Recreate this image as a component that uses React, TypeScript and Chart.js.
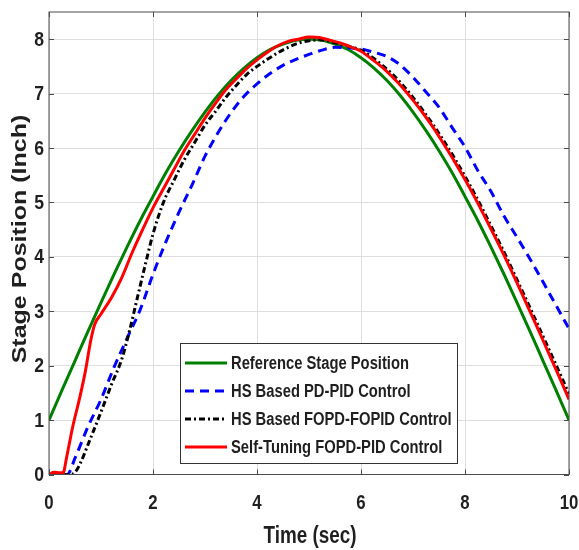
import React, { useEffect, useRef } from "react";
import { Chart, registerables } from "chart.js";
Chart.register(...registerables);

const SERIES_NAMES = [
  "Reference Stage Position",
  "HS Based PD-PID Control",
  "HS Based FOPD-FOPID Control",
  "Self-Tuning FOPD-PID Control",
];
const X_TITLE = "Time (sec)";
const Y_TITLE = "Stage Position (Inch)";

const T_REF = [0, 0.25, 0.5, 0.75, 1, 1.25, 1.5, 1.75, 2, 2.25, 2.5, 2.75, 3, 3.25, 3.5, 3.75, 4, 4.25, 4.5, 4.75, 5,
  5.25, 5.5, 5.75, 6, 6.25, 6.5, 6.75, 7, 7.25, 7.5, 7.75, 8, 8.25, 8.5, 8.75, 9, 9.25, 9.5, 9.75, 10];
const Y_REF = [1.0, 1.55, 2.09, 2.63, 3.16, 3.68, 4.18, 4.66, 5.11, 5.55, 5.95, 6.32, 6.66, 6.97, 7.24, 7.47, 7.66, 7.81, 7.91, 7.98, 8.0,
  7.98, 7.91, 7.81, 7.66, 7.47, 7.24, 6.97, 6.66, 6.32, 5.95, 5.55, 5.11, 4.66, 4.18, 3.68, 3.16, 2.63, 2.09, 1.55, 1.0];

const T_PD = [0, 0.35, 0.5, 0.75, 1, 1.25, 1.5, 1.75, 2, 2.25, 2.5, 2.75, 3, 3.25, 3.5, 3.75, 4, 4.25, 4.5, 4.75, 5,
  5.25, 5.5, 5.75, 6, 6.25, 6.5, 6.75, 7, 7.25, 7.5, 7.75, 8, 8.25, 8.5, 8.75, 9, 9.25, 9.5, 9.75, 10];
const Y_PD = [0, 0, 0.3, 0.88, 1.38, 1.97, 2.5, 3.02, 3.68, 4.28, 4.82, 5.32, 5.85, 6.28, 6.65, 6.95, 7.18, 7.37, 7.52, 7.63, 7.72,
  7.8, 7.85, 7.84, 7.82, 7.76, 7.68, 7.53, 7.3, 7.03, 6.75, 6.38, 6.02, 5.58, 5.2, 4.75, 4.36, 3.96, 3.54, 3.11, 2.68];

const T_FO = [0, 0.4, 0.5, 0.6, 0.75, 1, 1.2, 1.4, 1.55, 1.7, 1.85, 2, 2.2, 2.4, 2.6, 2.8, 3, 3.2, 3.4, 3.6, 3.8, 4,
  4.2, 4.4, 4.6, 4.8, 5, 5.2, 5.4, 5.6, 5.8, 6, 6.2, 6.4, 6.6, 6.8, 7, 7.2, 7.4, 7.6, 7.8, 8, 8.2, 8.4, 8.6, 8.8, 9,
  9.2, 9.4, 9.6, 9.8, 10];
const Y_FO = [0, 0, 0.04, 0.2, 0.55, 1.15, 1.65, 2.12, 2.65, 3.25, 3.85, 4.42, 5.0, 5.4, 5.78, 6.1, 6.42, 6.67, 6.93, 7.15, 7.35, 7.5,
  7.63, 7.75, 7.85, 7.93, 7.97, 7.99, 7.96, 7.91, 7.86, 7.8, 7.68, 7.53, 7.36, 7.16, 6.93, 6.68, 6.41, 6.12, 5.81, 5.48, 5.13, 4.76,
  4.38, 3.99, 3.58, 3.17, 2.75, 2.33, 1.91, 1.48];

const T_ST = [0, 0.1, 0.2, 0.27, 0.34, 0.45, 0.6, 0.7, 0.8, 0.88, 1, 1.2, 1.4, 1.6, 1.8, 2, 2.2, 2.4, 2.6, 2.8, 3, 3.2, 3.4,
  3.6, 3.8, 4, 4.2, 4.4, 4.6, 4.8, 5, 5.2, 5.4, 5.6, 5.8, 6, 6.2, 6.4, 6.6, 6.8, 7, 7.2, 7.4, 7.6, 7.8, 8, 8.2, 8.4, 8.6,
  8.8, 9, 9.2, 9.4, 9.6, 9.8, 10];
const Y_ST = [0, 0.04, 0.03, 0.03, 0.32, 0.85, 1.45, 1.9, 2.45, 2.76, 2.95, 3.25, 3.62, 4.08, 4.5, 4.9, 5.25, 5.6, 5.95, 6.25, 6.55,
  6.82, 7.07, 7.27, 7.46, 7.62, 7.76, 7.88, 7.96, 8.0, 8.04, 8.03, 7.98, 7.93, 7.86, 7.78, 7.64, 7.49, 7.31, 7.11, 6.88, 6.63,
  6.36, 6.06, 5.75, 5.42, 5.07, 4.7, 4.32, 3.93, 3.52, 3.1, 2.68, 2.25, 1.82, 1.38];

const X_TICKS = [0, 2, 4, 6, 8, 10];
const Y_TICKS = [0, 1, 2, 3, 4, 5, 6, 7, 8];

const FONT = "'Liberation Sans', Arial, sans-serif";
const SX = 0.82; // horizontal squeeze of the original lettering
const TEXT_COLOR = "#1f1f1f";

const COLORS = ["#008000", "#0000ff", "#000000", "#ff0000"];
const DASHES: number[][] = [[], [9, 6], [6, 3, 2, 3], []];

const pts = (t: number[], y: number[]) => t.map((v, i) => ({ x: v, y: y[i] }));

function squeezedText(ctx: any, text: string, x: number, y: number, size: number,
  align: CanvasTextAlign, rotate = false, sx = SX) {
  ctx.save();
  ctx.font = `bold ${size}px ${FONT}`;
  ctx.fillStyle = TEXT_COLOR;
  ctx.textAlign = align;
  ctx.textBaseline = "middle";
  ctx.translate(x, y);
  ctx.scale(sx, 1);
  if (rotate) ctx.rotate(-Math.PI / 2);
  ctx.fillText(text, 0, 0);
  ctx.restore();
}

const framePlugin = {
  id: "frame",
  beforeDraw(chart: any) {
    const ctx = chart.ctx;
    ctx.save();
    ctx.fillStyle = "#ffffff";
    ctx.fillRect(0, 0, chart.width, chart.height);
    ctx.restore();
  },
  afterDatasetsDraw(chart: any) {
    const { ctx, chartArea: a, scales } = chart;
    ctx.save();
    ctx.strokeStyle = "#4a4a4a";
    ctx.lineWidth = 1;
    ctx.setLineDash([]);
    ctx.strokeRect(a.left, a.top, a.right - a.left, a.bottom - a.top);
    const L = 5;
    ctx.beginPath();
    X_TICKS.forEach((v) => {
      const px = Math.round(scales.x.getPixelForValue(v)) + 0.5;
      ctx.moveTo(px, a.bottom);
      ctx.lineTo(px, a.bottom - L);
      ctx.moveTo(px, a.top);
      ctx.lineTo(px, a.top + L);
    });
    Y_TICKS.forEach((v) => {
      const py = Math.round(scales.y.getPixelForValue(v)) + 0.5;
      ctx.moveTo(a.left, py);
      ctx.lineTo(a.left + L, py);
      ctx.moveTo(a.right, py);
      ctx.lineTo(a.right - L, py);
    });
    ctx.stroke();

    // tick labels
    scales.x.ticks.forEach((t: any) => {
      squeezedText(ctx, String(t.value), scales.x.getPixelForValue(t.value), a.bottom + 29, 21, "center", false, 0.8);
    });
    scales.y.ticks.forEach((t: any) => {
      squeezedText(ctx, String(t.value), a.left - 5, scales.y.getPixelForValue(t.value) + 1, 20, "right", false, 0.88);
    });
    // axis titles
    squeezedText(ctx, X_TITLE, 310, 537, 23, "center");
    squeezedText(ctx, Y_TITLE, 20, 239, 25, "center", true);

    // legend box
    const bx = 180, by = 343, bw = 277, bh = 120;
    ctx.fillStyle = "#ffffff";
    ctx.fillRect(bx, by, bw, bh);
    ctx.strokeStyle = "#333333";
    ctx.lineWidth = 1;
    ctx.strokeRect(bx + 0.5, by + 0.5, bw, bh);
    const rowY = [363, 391, 419, 447];
    SERIES_NAMES.forEach((name, i) => {
      const y = rowY[i];
      ctx.beginPath();
      ctx.strokeStyle = COLORS[i];
      ctx.lineWidth = 3;
      ctx.setLineDash(DASHES[i]);
      ctx.moveTo(185, y);
      ctx.lineTo(227, y);
      ctx.stroke();
      ctx.setLineDash([]);
      squeezedText(ctx, name, 231, y + 1, 18, "left");
    });
    ctx.restore();
  },
};

export default function App() {
  const ref = useRef<HTMLCanvasElement>(null);
  useEffect(() => {
    const series = [pts(T_REF, Y_REF), pts(T_PD, Y_PD), pts(T_FO, Y_FO), pts(T_ST, Y_ST)];
    const chart = new Chart(ref.current as HTMLCanvasElement, {
      type: "line",
      data: {
        datasets: series.map((d, i) => ({
          label: SERIES_NAMES[i],
          data: d,
          borderColor: COLORS[i],
          backgroundColor: COLORS[i],
          borderWidth: 3,
          borderDash: DASHES[i],
          pointRadius: 0,
          fill: false,
          cubicInterpolationMode: "monotone" as const,
          order: 4 - i,
        })),
      },
      options: {
        animation: false,
        responsive: false,
        devicePixelRatio: 1,
        layout: { padding: { left: 0, top: 12, right: 10, bottom: 0 } },
        plugins: { legend: { display: false }, tooltip: { enabled: false } },
        scales: {
          x: {
            type: "linear",
            min: 0,
            max: 10,
            afterFit: (s: any) => { s.height = 75.5; },
            ticks: { stepSize: 2, display: false },
            grid: { color: "#dedede", lineWidth: 1, drawTicks: false },
            border: { display: false },
            title: { display: false, text: X_TITLE },
          },
          y: {
            type: "linear",
            min: 0,
            max: 8.5,
            afterFit: (s: any) => { s.width = 49; },
            ticks: { stepSize: 1, includeBounds: false, display: false },
            grid: { color: "#dedede", lineWidth: 1, drawTicks: false },
            border: { display: false },
            title: { display: false, text: Y_TITLE },
          },
        },
      },
      plugins: [framePlugin],
    });
    return () => chart.destroy();
  }, []);
  return (
    <div style={{ position: "fixed", left: 0, top: 0, width: 579, height: 550, background: "#fff" }}>
      <canvas ref={ref} width={579} height={550} style={{ display: "block", width: 579, height: 550 }} />
    </div>
  );
}
